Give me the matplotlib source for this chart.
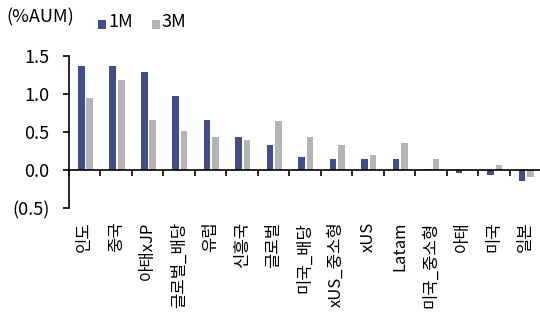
import matplotlib
matplotlib.use("Agg")
import matplotlib.pyplot as plt
import numpy as np
from matplotlib.patches import Rectangle

plt.rcParams['font.family'] = ['Noto Sans CJK KR', 'DejaVu Sans']

categories = ["인도", "중국", "아태xJP", "글로벌_배당", "유럽", "신흥국", "글로벌",
              "미국_배당", "xUS_중소형", "xUS", "Latam", "미국_중소형", "아태", "미국", "일본"]
flow_1m = [1.37, 1.37, 1.29, 0.98, 0.66, 0.43, 0.33, 0.17, 0.14, 0.14, 0.14, 0.01, -0.04, -0.06, -0.14]
flow_3m = [0.95, 1.19, 0.66, 0.51, 0.43, 0.40, 0.64, 0.43, 0.33, 0.20, 0.35, 0.14, 0.005, 0.07, -0.09]
yticks = [-0.5, 0.0, 0.5, 1.0, 1.5]
ytick_labels = ["(0.5)", "0.0", "0.5", "1.0", "1.5"]
series_names = ["1M", "3M"]

navy = "#414E89"
gray = "#B4B4B4"

W, H = 540, 320
fig = plt.figure(figsize=(W / 100, H / 100), dpi=100)
ax = fig.add_axes([69 / W, (H - 208) / H, 472 / W, (208 - 56) / H])

x = np.arange(len(categories))
bw = 0.21
ax.bar(x - 0.11, flow_1m, width=bw, color=navy, linewidth=0)
ax.bar(x + 0.16, flow_3m, width=bw, color=gray, linewidth=0)

ax.set_xlim(-0.5, len(categories) - 0.5)
ax.set_ylim(-0.5, 1.5)

for s in ("top", "right"):
    ax.spines[s].set_visible(False)
ax.spines["bottom"].set_position(("data", 0))
ax.spines["left"].set_linewidth(1.2)
ax.spines["bottom"].set_linewidth(1.2)

ax.set_yticks(yticks)
ax.set_yticklabels(ytick_labels, fontsize=13)
ax.tick_params(axis="y", direction="out", length=4, width=1.2, pad=10)

# category boundary ticks on the zero line
ax.set_xticks(np.arange(len(categories) + 1) - 0.5)
ax.set_xticklabels([])
ax.tick_params(axis="x", direction="out", length=4, width=1.2)

# category names below the plot area
for xi, name in zip(x, categories):
    ax.text(xi, -0.09, name, transform=ax.get_xaxis_transform(), rotation=90,
            ha="center", va="top", fontsize=12)

fig.text(6 / W, 1 - 17 / H, "(%AUM)", fontsize=13, ha="left", va="center")

# legend
for (xl, col, name) in [(98, navy, series_names[0]), (152, gray, series_names[1])]:
    fig.patches.append(Rectangle((xl / W, 1 - 29 / H), 8 / W, 9 / H,
                                 transform=fig.transFigure, color=col, linewidth=0))
    fig.text((xl + 10) / W, 1 - 22 / H, name, fontsize=13, ha="left", va="center")

fig.savefig("out.png", dpi=100)
